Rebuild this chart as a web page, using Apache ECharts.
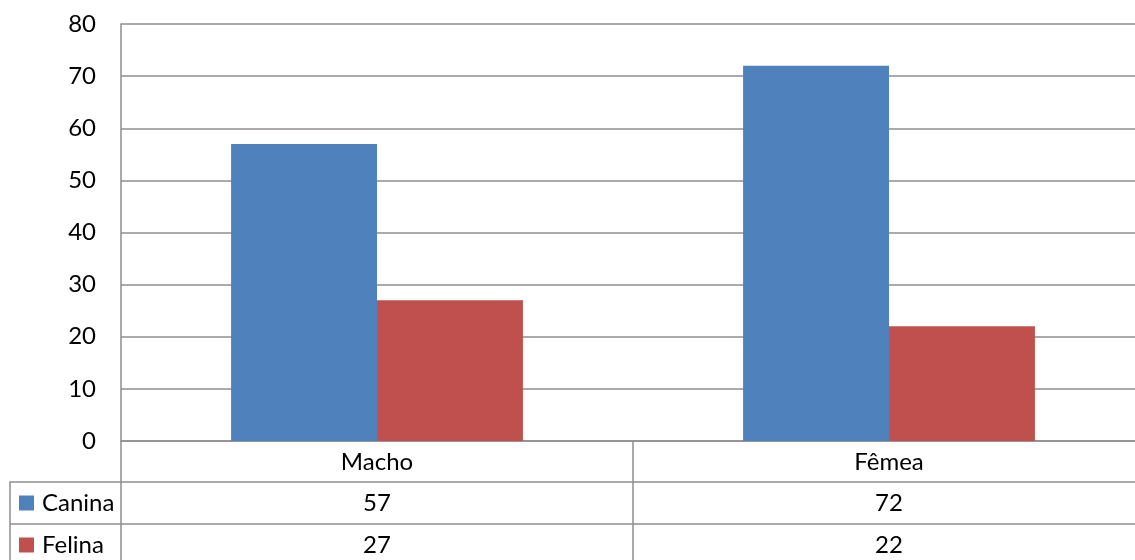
<!DOCTYPE html>
<html>
<head>
<meta charset="utf-8">
<script src="https://cdn.jsdelivr.net/npm/echarts@6/dist/echarts.min.js"></script>
<style>
  html, body { margin: 0; padding: 0; background: #fff; overflow: hidden; }
  /* plot area runs past the right edge of the window, as in the original */
  #container { width: 1145px; height: 560px; }
</style>
</head>
<body>
<div id="container"></div>
<script>
// chart data
var categories = ['Macho', 'Fêmea'];
var seriesNames = ['Canina', 'Felina'];
var canina = [57, 72];
var felina = [27, 22];
var yTicks = { min: 0, max: 80, interval: 10 };

var lineColor = '#8e8e8e';
var fontFamily = 'Lato, "Liberation Sans", sans-serif';
var fontSize = 24;

var myChart = echarts.init(document.getElementById('container'));

// data table rows are drawn as extra category axes under the plot
function tableAxis(values, offset) {
    return {
        type: 'category',
        data: values.map(function (v) { return String(v); }),
        position: 'bottom',
        offset: offset,
        axisLine: { show: true, lineStyle: { color: lineColor, width: 1.5 } },
        axisTick: { show: false },
        axisLabel: { color: '#000', fontSize: fontSize, fontFamily: fontFamily, margin: 9 },
        splitLine: { show: false }
    };
}

// one legend per row of the table
function rowLegend(name, top) {
    return {
        data: [name],
        left: 14,
        top: top,
        itemWidth: 15,
        itemHeight: 15,
        itemGap: 0,
        icon: 'rect',
        textStyle: { color: '#000', fontSize: fontSize, fontFamily: fontFamily, padding: [0, 0, 0, 3] }
    };
}

var option = {
    animation: false,
    backgroundColor: '#fff',
    grid: { left: 121, top: 24, bottom: 119, right: 0 },
    legend: [rowLegend(seriesNames[0], 486), rowLegend(seriesNames[1], 528)],
    xAxis: [
        {
            type: 'category',
            data: categories,
            position: 'bottom',
            axisLine: { show: true, lineStyle: { color: lineColor, width: 1.5 } },
            axisTick: { show: true, length: 120, lineStyle: { color: lineColor, width: 1.5 } },
            axisLabel: { color: '#000', fontSize: fontSize, fontFamily: fontFamily, margin: 9 },
            splitLine: { show: false }
        },
        tableAxis(canina, 41),
        tableAxis(felina, 83)
    ],
    yAxis: {
        type: 'value',
        min: yTicks.min,
        max: yTicks.max,
        interval: yTicks.interval,
        axisLine: { show: true, lineStyle: { color: lineColor, width: 1.5 } },
        axisTick: { show: false },
        axisLabel: { color: '#000', fontSize: fontSize, fontFamily: fontFamily, margin: 25 },
        splitLine: { show: true, lineStyle: { color: lineColor, width: 1.5 } }
    },
    graphic: [
        {
            type: 'polyline',
            shape: { points: [[121, 482], [10, 482], [10, 560]] },
            style: { stroke: lineColor, lineWidth: 1.5, fill: null },
            silent: true
        },
        {
            type: 'line',
            shape: { x1: 10, y1: 524, x2: 121, y2: 524 },
            style: { stroke: lineColor, lineWidth: 1.5 },
            silent: true
        }
    ],
    series: [
        {
            name: seriesNames[0],
            type: 'bar',
            data: canina,
            barGap: '0%',
            barCategoryGap: '43%',
            itemStyle: { color: '#4f81bd' }
        },
        {
            name: seriesNames[1],
            type: 'bar',
            data: felina,
            barGap: '0%',
            barCategoryGap: '43%',
            itemStyle: { color: '#c0504d' }
        }
    ]
};

myChart.setOption(option);
</script>
</body>
</html>
